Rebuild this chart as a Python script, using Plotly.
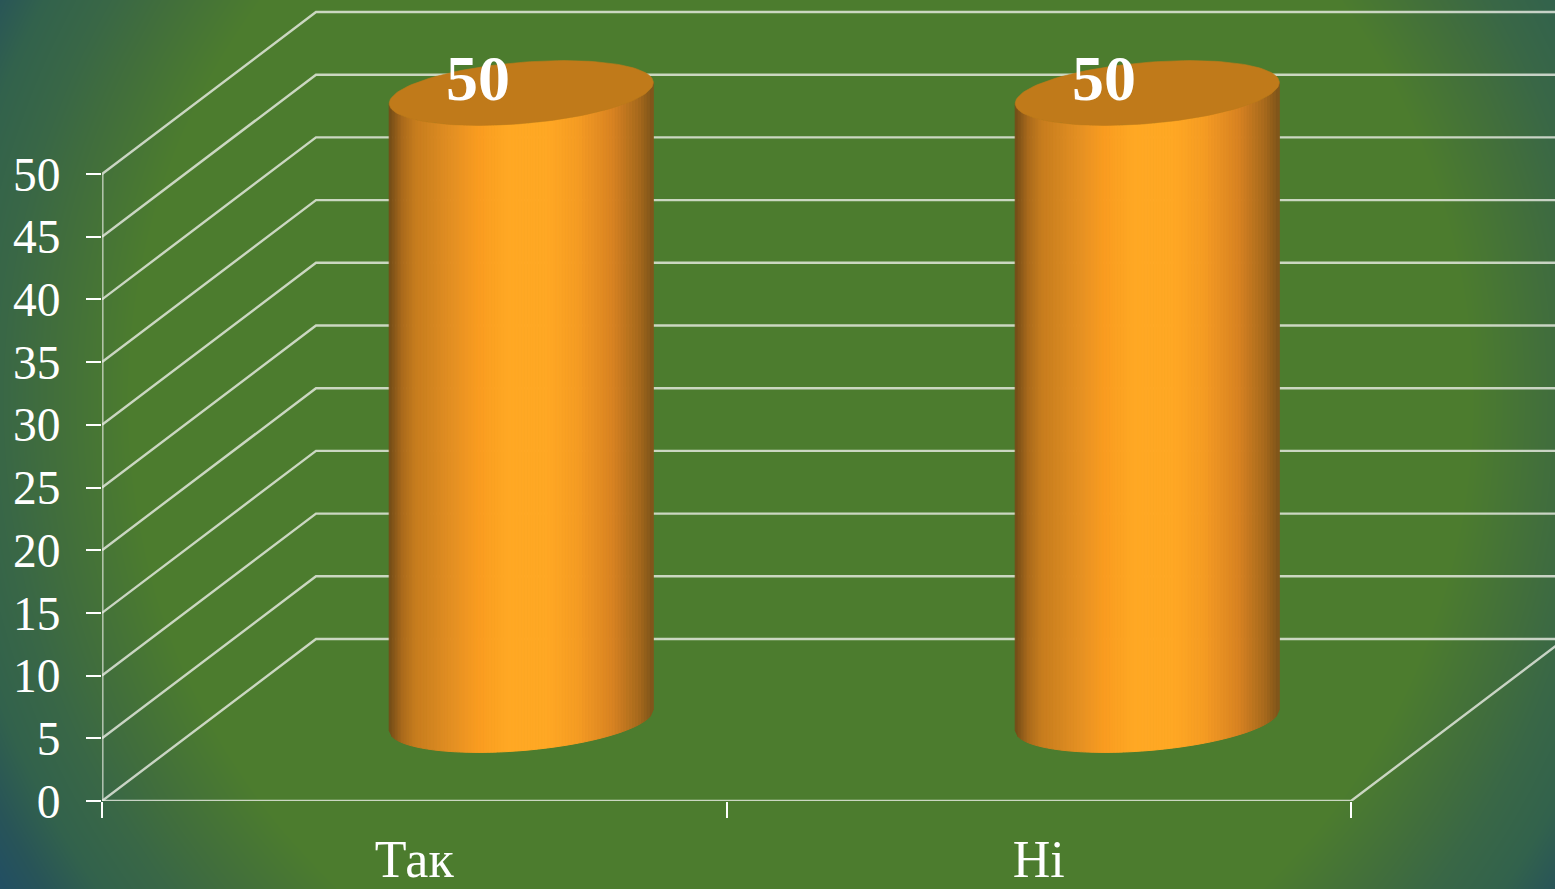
import math
import numpy as np
import plotly.graph_objects as go

# ---- data ----
categories = ["Так", "Ні"]
values = [50, 50]
y_ticks = [0, 5, 10, 15, 20, 25, 30, 35, 40, 45, 50]

W, H = 1555, 889
PX_CAT = 624.5     # pixels per category
PX_VAL = 12.54     # pixels per value unit
LEFT, BOTTOM = 102, 88
DEPTH_PX_X, DEPTH_PX_Y = 214, 162
DX = DEPTH_PX_X / PX_CAT
DY = DEPTH_PX_Y / PX_VAL
RC, RD = 0.2, 0.2  # cylinder radius along category / depth
BAR_SPACING = 626 / PX_CAT
N_STRIPS = 90
SERIF = "Liberation Serif"

shade_pos = [0, .05, .1, .25, .34, .45, .6, .72, .85, .95, 1]
shade_rgb = [(112, 74, 24), (170, 106, 28), (198, 124, 30), (230, 145, 35), (250, 156, 32),
             (255, 168, 36), (255, 168, 36), (245, 155, 35), (215, 130, 34), (165, 104, 28), (124, 84, 26)]

bg_stops = [670, 750, 800, 855, 900, 940]
bg_rgb = ["rgb(76,124,46)", "rgb(65,110,60)", "rgb(57,103,70)", "rgb(50,98,76)", "rgb(40,84,88)", "rgb(33,78,100)"]


def proj(cat, val, depth):
    return np.asarray(cat) + np.asarray(depth) * DX, np.asarray(val) + np.asarray(depth) * DY


def shade(f):
    c = [np.interp(f, shade_pos, [s[i] for s in shade_rgb]) for i in range(3)]
    return "rgb(%d,%d,%d)" % tuple(int(round(v)) for v in c)


fig = go.Figure()

# background radial gradient on its own full-page axes
gx = np.linspace(0, W, 79)
gy = np.linspace(0, H, 46)
xx, yy = np.meshgrid(gx, gy)
dist = np.hypot(xx - 800, yy - 400)
fig.add_trace(go.Heatmap(
    x=gx, y=gy, z=dist, zmin=bg_stops[0], zmax=bg_stops[-1], zsmooth="best", showscale=False, hoverinfo="skip",
    colorscale=[[(s - bg_stops[0]) / (bg_stops[-1] - bg_stops[0]), c] for s, c in zip(bg_stops, bg_rgb)],
    xaxis="x", yaxis="y"))

# frame and grid
fx, fy = [], []
for v in y_ticks:
    a = proj(0, v, 0)
    b = proj(0, v, 1)
    c = proj(len(categories), v, 1)
    fx += [a[0], b[0], c[0], None]
    fy += [a[1], b[1], c[1], None]
for p in [(0, 0, 0), (len(categories), 0, 0), (len(categories), 0, 1)]:
    q = proj(*p)
    fx.append(q[0])
    fy.append(q[1])
fig.add_trace(go.Scatter(x=fx, y=fy, mode="lines", hoverinfo="skip",
                         line=dict(color="rgba(235,238,230,0.8)", width=2.4),
                         xaxis="x2", yaxis="y2", cliponaxis=False))
# y axis line
ya = proj(0, 0, 0)
yb = proj(0, max(y_ticks), 0)
fig.add_trace(go.Scatter(x=[ya[0], yb[0]], y=[ya[1], yb[1]], mode="lines", hoverinfo="skip",
                         line=dict(color="rgba(235,238,230,0.65)", width=3.2),
                         xaxis="x2", yaxis="y2", cliponaxis=False))

# cylinders
t0 = math.atan2(RD * DX, RC)
fracs = np.linspace(0, 1, N_STRIPS + 1)
angles = t0 + 2 * math.pi - np.arccos(2 * fracs - 1)
for i, v in enumerate(values):
    c = 0.5 + i * BAR_SPACING
    cats = c + RC * np.cos(angles)
    deps = 0.5 + RD * np.sin(angles)
    bx, by = proj(cats, 0, deps)
    tx, ty = proj(cats, v, deps)
    for k in range(N_STRIPS):
        col = shade((k + 0.5) / N_STRIPS)
        fig.add_trace(go.Scatter(
            x=[bx[k], bx[k + 1], tx[k + 1], tx[k], bx[k]],
            y=[by[k], by[k + 1], ty[k + 1], ty[k], by[k]],
            mode="lines", fill="toself", fillcolor=col, hoverinfo="skip",
            line=dict(color=col, width=1), xaxis="x2", yaxis="y2"))
    tt = np.linspace(0, 2 * math.pi, 121)
    ex, ey = proj(c + RC * np.cos(tt), v, 0.5 + RD * np.sin(tt))
    fig.add_trace(go.Scatter(x=ex, y=ey, mode="lines", fill="toself", fillcolor="#C07A1A",
                             hoverinfo="skip", line=dict(color="#C07A1A", width=0.6),
                             xaxis="x2", yaxis="y2"))

annotations = []
for i, v in enumerate(values):
    ax, ay = proj(0.5 + i * BAR_SPACING, v, 0.5)
    annotations.append(dict(x=float(ax), y=float(ay), xref="x2", yref="y2", text="<b>%d</b>" % v,
                            showarrow=False, xshift=-43, yshift=15,
                            font=dict(family=SERIF, size=64, color="white")))

fig.update_layout(
    width=W, height=H, margin=dict(l=0, r=0, t=0, b=0, pad=0, autoexpand=False),
    paper_bgcolor="#4C7C2E", plot_bgcolor="rgba(0,0,0,0)", showlegend=False,
    annotations=annotations,
    xaxis=dict(domain=[0, 1], range=[0, W], visible=False, fixedrange=True, automargin=False),
    yaxis=dict(domain=[0, 1], range=[H, 0], visible=False, fixedrange=True, automargin=False),
    xaxis2=dict(domain=[LEFT / W, 1], range=[0, (W - LEFT) / PX_CAT], anchor="y2", automargin=False,
                tickmode="array", tickvals=[i + 0.5 for i in range(len(categories))], ticktext=categories,
                ticks="", showgrid=False, zeroline=False, showline=False,
                tickfont=dict(family=SERIF, size=52, color="white"), ticklabelstandoff=23,
                minor=dict(tickmode="array", tickvals=list(range(len(categories) + 1)), ticks="outside",
                           ticklen=16, tickwidth=1.5, tickcolor="white", showgrid=False)),
    yaxis2=dict(domain=[BOTTOM / H, 1], range=[0, (H - BOTTOM) / PX_VAL], anchor="x2", automargin=False,
                tickmode="array", tickvals=y_ticks, ticks="outside", ticklen=15, tickwidth=1.5,
                tickcolor="white", showgrid=False, zeroline=False, showline=False,
                tickfont=dict(family=SERIF, size=47.5, color="white"), ticklabelstandoff=16),
)

fig.write_html("out.html", config=dict(displayModeBar=False),
               post_script="document.body.style.margin='0';document.body.style.overflow='hidden';")
